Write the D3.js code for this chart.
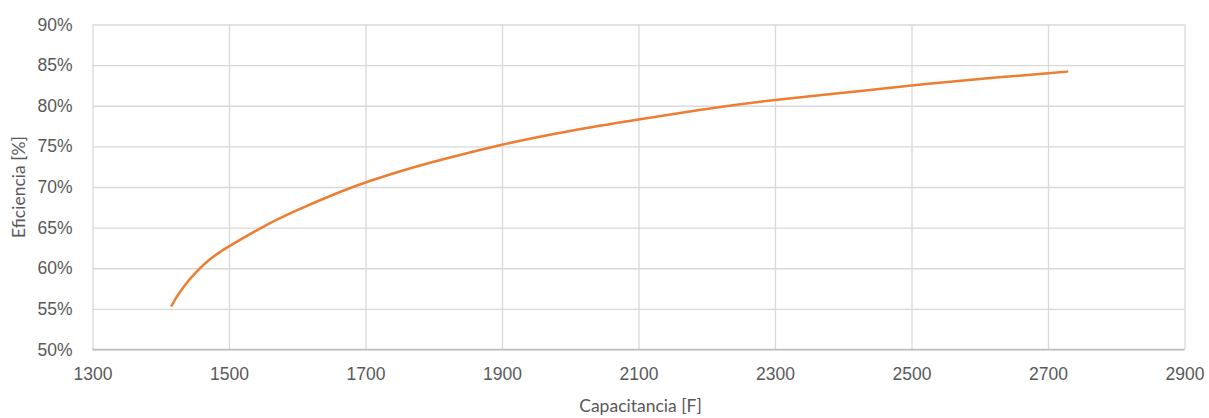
<!DOCTYPE html>
<html>
<head>
<meta charset="utf-8">
<script src="https://cdn.jsdelivr.net/npm/d3@7"></script>
<style>
  html, body { margin: 0; padding: 0; background: #fff; }
  svg { display: block; font-family: Lato, "Open Sans", sans-serif; }
</style>
</head>
<body>
<svg id="chart" width="1209" height="418"></svg>
<script>
// Capacitance [F] and efficiency [%] of the storage bank
const capacitance = [1416, 1420, 1425, 1430, 1440, 1450, 1460, 1470, 1480, 1490, 1500, 1550,
                     1600, 1650, 1700, 1750, 1800, 1900, 2000, 2100, 2200, 2300, 2400, 2500,
                     2600, 2700, 2728];
const efficiency  = [55.4, 56.0, 56.7, 57.3, 58.4, 59.35, 60.2, 60.95, 61.6, 62.18, 62.7, 65.1,
                     67.15, 68.95, 70.55, 71.9, 73.1, 75.2, 76.9, 78.3, 79.6, 80.7, 81.6, 82.5,
                     83.3, 84.0, 84.2];

const xTicks = [1300, 1500, 1700, 1900, 2100, 2300, 2500, 2700, 2900];
const yTicks = [50, 55, 60, 65, 70, 75, 80, 85, 90];

const xTitle = "Capacitancia [F]";
const yTitle = "Eficiencia [%]";

const svg = d3.select("#chart");
const margin = { left: 92.5, right: 1184.5, top: 24.5, bottom: 349.5 };
const fontSize = 17.5;

const x = d3.scaleLinear().domain([1300, 2900]).range([margin.left, margin.right]);
const y = d3.scaleLinear().domain([50, 90]).range([margin.bottom, margin.top]);

const grid = "#d9d9d9";
const textColor = "#595959";

// vertical gridlines
svg.append("g")
  .attr("transform", `translate(0,${margin.bottom})`)
  .call(d3.axisBottom(x).tickValues(xTicks).tickSize(-(margin.bottom - margin.top)).tickFormat(d => d).tickPadding(18))
  .call(g => g.select(".domain").remove())
  .call(g => g.selectAll(".tick line").attr("stroke", grid).attr("stroke-width", 1.3))
  .call(g => g.selectAll(".tick text").attr("fill", textColor).attr("font-size", fontSize).attr("dy", "0.71em"));

// horizontal gridlines
svg.append("g")
  .attr("transform", `translate(${margin.left},0)`)
  .call(d3.axisLeft(y).tickValues(yTicks).tickSize(-(margin.right - margin.left)).tickFormat(d => d + "%").tickPadding(20))
  .call(g => g.select(".domain").remove())
  .call(g => g.selectAll(".tick line").attr("stroke", grid).attr("stroke-width", 1.3))
  .call(g => g.selectAll(".tick text").attr("fill", textColor).attr("font-size", fontSize));

// bottom axis line
svg.append("line")
  .attr("x1", margin.left).attr("x2", margin.right)
  .attr("y1", margin.bottom).attr("y2", margin.bottom)
  .attr("stroke", "#bfbfbf").attr("stroke-width", 1.3);

// efficiency curve
const pts = capacitance.map((c, i) => [c, efficiency[i]]);
svg.append("path")
  .datum(pts)
  .attr("fill", "none")
  .attr("stroke", "#ED7D31")
  .attr("stroke-width", 2.5)
  .attr("stroke-linecap", "round")
  .attr("d", d3.line().x(d => x(d[0])).y(d => y(d[1])).curve(d3.curveNatural));

// axis titles
svg.append("text")
  .attr("x", (margin.left + margin.right) / 2 + 2).attr("y", 408)
  .attr("text-anchor", "middle").attr("dominant-baseline", "middle")
  .attr("fill", textColor).attr("font-size", fontSize)
  .text(xTitle);

svg.append("text")
  .attr("transform", `translate(21,${(margin.top + margin.bottom) / 2}) rotate(-90)`)
  .attr("text-anchor", "middle").attr("dominant-baseline", "middle")
  .attr("fill", textColor).attr("font-size", fontSize)
  .text(yTitle);
</script>
</body>
</html>
